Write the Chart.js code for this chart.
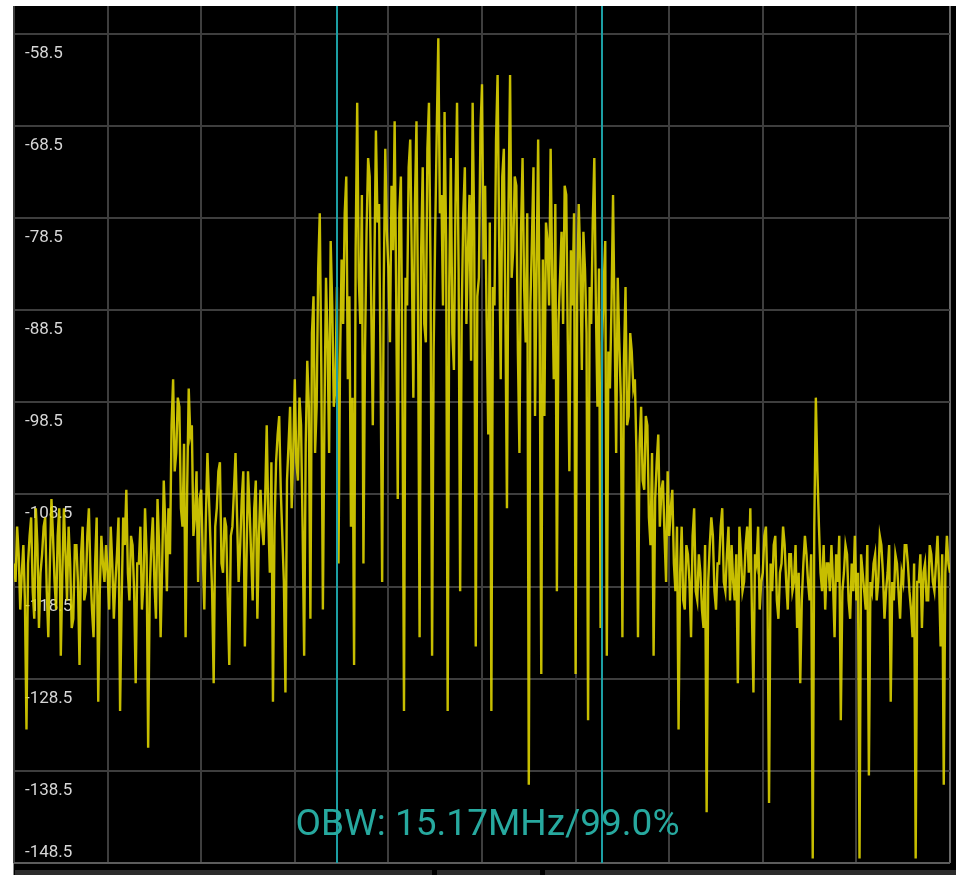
<!DOCTYPE html>
<html>
<head>
<meta charset="utf-8">
<script src="https://cdn.jsdelivr.net/npm/chart.js@4.4.1/dist/chart.umd.min.js"></script>
<style>
  html, body { margin: 0; padding: 0; background: #ffffff; width: 956px; height: 875px; overflow: hidden; }
  #frame { position: absolute; left: 14px; top: 6px; width: 942px; height: 869px; background: #000; }
  #edge { position: absolute; left: 13px; top: 6px; width: 1px; height: 869px; background: #8a8a8a; }
  .bar { position: absolute; top: 870px; height: 5px; background: #2c2c2c; }
  #c { position: absolute; left: 0; top: 0; }
</style>
</head>
<body>
<div id="frame"></div>
<div id="edge"></div>
<div class="bar" style="left:15px;width:417px"></div>
<div class="bar" style="left:437px;width:103px"></div>
<div class="bar" style="left:545px;width:411px"></div>
<canvas id="c" width="956" height="875"></canvas>
<script>
// ---- data ----
const yTickValues = [-148.5, -138.5, -128.5, -118.5, -108.5, -98.5, -88.5, -78.5, -68.5, -58.5];
const yTickLabels = ['-148.5', '-138.5', '-128.5', '-118.5', '-108.5', '-98.5', '-88.5', '-78.5', '-68.5', '-58.5'];
const yMin = -148.5;
const yMax = -55.5;
const xMin = 0;
const xMax = 600;
const xGridStep = 60;
const obwMarkers = [207, 377];
const obwLabel = 'OBW: 15.17MHz/99.0%';

// trace level per frequency bin (dBm), bins 0..600
const levels = [
  -116,-118, -112,-115, -121,-117, -114,-120, -134,-116, -113,-111, -119,-122, -110,-114, -123,-117, -115,-112,
  -111,-119, -124,-116, -109,-113, -118,-121, -113,-110, -126,-117, -110,-115, -120,-112, -116,-123, -122,-114,
  -114,-118, -127,-115, -112,-120, -119,-113, -110,-117, -121,-124, -116,-111, -131,-119, -113,-116, -118,-114,
  -117,-121, -112,-116, -122,-118, -115,-111, -132,-120, -111,-114, -108,-117, -120,-113, -114,-119, -129,-116,
  -116,-112, -121,-118, -110,-115, -136,-119, -114,-111, -118,-122, -109,-114, -124,-116, -107,-112, -119,-110,
  -115,-101, -96,-106, -104,-98, -99,-110, -112,-103, -124,-108, -97,-102, -101,-113, -111,-106, -118,-109,
  -108,-115, -121,-111, -104,-109, -114,-119, -129,-112, -110,-106, -105,-116, -117,-111, -112,-120, -127,-113,
  -112,-108, -104,-111, -118,-114, -109,-106, -125,-116, -106,-110, -115,-120, -110,-107, -122,-113, -108,-112,
  -114,-109, -101,-111, -117,-105, -131,-112, -105,-102, -100,-108, -113,-118, -130,-107, -103,-99, -110,-104,
  -96,-105, -107,-98, -101,-112, -126,-103, -94,-99, -122,-91, -87,-104, -99,-84, -78,-95, -121,-100,
  -85,-92, -104,-81, -88,-99, -97,-86, -116,-94, -83,-90, -78,-74, -96,-87, -112,-98, -127,-82,
  -66,-85, -90,-76, -116,-93, -80,-72, -74,-88, -101,-84, -69,-79, -77,-95, -118,-86, -71,-80,
  -84,-92, -75,-82, -68,-87, -109,-78, -74,-96, -132,-85, -88,-73, -70,-83, -98,-77, -68,-89,
  -124,-82, -73,-90, -92,-71, -66,-84, -126,-93, -80,-69, -59,-78, -76,-88, -67,-81, -132,-86,
  -72,-91, -95,-77, -66,-84, -119,-89, -78,-73, -90,-82, -76,-94, -66,-80, -125,-87, -85,-69,
  -64,-83, -75,-90, -102,-79, -132,-86, -88,-70, -63,-81, -96,-74, -71,-89, -110,-77, -63,-85,
  -82,-74, -75,-93, -104,-80, -72,-86, -92,-78, -140,-88, -81,-73, -100,-84, -70,-91, -128,-83,
  -100,-79, -81,-88, -71,-85, -96,-77, -119,-90, -85,-80, -90,-75, -76,-92, -106,-82, -88,-78,
  -128,-87, -77,-83, -95,-80, -84,-91, -133,-86, -90,-79, -72,-88, -99,-84, -123,-92, -86,-81,
  -126,-93, -97,-88, -76,-90, -104,-85, -92,-98, -124,-94, -86,-101, -100,-91, -93,-97, -96,-104,
  -124,-103, -99,-107, -108,-100, -101,-111, -114,-104, -126,-109, -105,-102, -112,-108, -107,-113, -118,-106,
  -113,-110, -108,-116, -119,-112, -134,-117, -112,-120, -121,-114, -115,-118, -124,-113, -110,-119, -120,-115,
  -117,-121, -123,-114, -143,-118, -114,-111, -113,-119, -121,-116, -116,-112, -110,-118, -119,-115, -112,-120,
  -114,-118, -120,-115, -129,-112, -115,-119, -118,-114, -112,-117, -110,-121, -130,-115, -116,-112, -121,-118,
  -117,-113, -112,-119, -142,-116, -119,-114, -113,-120, -122,-117, -116,-112, -114,-118, -121,-115, -115,-119,
  -118,-114, -123,-117, -129,-120, -116,-113, -115,-118, -120,-115, -148,-112, -98,-106, -112,-117, -119,-114,
  -121,-116, -116,-119, -114,-118, -124,-115, -118,-113, -133,-119, -117,-114, -115,-120, -122,-116, -119,-113,
  -120,-117, -148,-115, -117,-119, -121,-114, -139,-118, -119,-116, -115,-120, -118,-113, -114,-117, -122,-119,
  -117,-114, -131,-118, -120,-115, -116,-119, -122,-117, -118,-114, -114,-116, -119,-121, -124,-116, -148,-118,
  -118,-115, -123,-117, -116,-120, -120,-114, -115,-118, -119,-116, -113,-118, -125,-115, -140,-117, -113,-116, -117
];

const points = levels.map((v, i) => ({ x: i, y: v }));

const labelPlugin = {
  id: 'yLabels',
  beforeDatasetsDraw(chart) {
    const { ctx, chartArea, scales } = chart;
    ctx.save();
    ctx.fillStyle = '#d6d6d6';
    ctx.font = '17px Roboto, "Noto Sans", sans-serif';
    ctx.textAlign = 'left';
    ctx.textBaseline = 'alphabetic';
    yTickValues.forEach((v, k) => {
      const py = scales.y.getPixelForValue(v);
      const base = Math.min(py + 24, chartArea.bottom - 6);
      ctx.fillText(yTickLabels[k], 25, base);
    });
    ctx.restore();
  }
};

const markerPlugin = {
  id: 'obw',
  afterDatasetsDraw(chart) {
    const { ctx, chartArea, scales } = chart;
    ctx.save();
    ctx.strokeStyle = '#1c9fa4';
    ctx.lineWidth = 2;
    obwMarkers.forEach(m => {
      const px = Math.round(scales.x.getPixelForValue(m));
      ctx.beginPath();
      ctx.moveTo(px, chartArea.top);
      ctx.lineTo(px, chartArea.bottom);
      ctx.stroke();
    });
    const cx = (scales.x.getPixelForValue(obwMarkers[0]) + scales.x.getPixelForValue(obwMarkers[1])) / 2 + 18;
    ctx.fillStyle = '#27a99f';
    ctx.font = '37px Roboto, "Noto Sans", sans-serif';
    ctx.textAlign = 'center';
    ctx.textBaseline = 'alphabetic';
    ctx.fillText(obwLabel, cx, chartArea.bottom - 28);
    ctx.restore();
  }
};

new Chart(document.getElementById('c'), {
  type: 'line',
  data: {
    datasets: [{
      data: points,
      borderColor: 'rgba(226, 216, 0, 0.88)',
      borderWidth: 2.4,
      pointRadius: 0,
      tension: 0,
      fill: false
    }]
  },
  options: {
    responsive: false,
    animation: false,
    devicePixelRatio: 1,
    layout: { padding: { left: 14, right: 6, top: 6, bottom: 12 } },
    plugins: { legend: { display: false }, tooltip: { enabled: false } },
    scales: {
      x: {
        type: 'linear',
        min: xMin,
        max: xMax,
        afterBuildTicks(scale) {
          const t = [];
          for (let v = xMin; v <= xMax; v += xGridStep) t.push({ value: v });
          scale.ticks = t;
        },
        ticks: { display: false },
        border: { display: false },
        grid: {
          drawTicks: false,
          lineWidth: 2,
          color: ctx => (ctx.tick && ctx.tick.value === xMax) ? '#6a6a6a' : '#3e3e3e'
        }
      },
      y: {
        type: 'linear',
        min: yMin,
        max: yMax,
        afterBuildTicks(scale) {
          scale.ticks = yTickValues.map(v => ({ value: v }));
        },
        ticks: { display: false },
        border: { display: false },
        grid: {
          drawTicks: false,
          lineWidth: 2,
          color: ctx => (ctx.tick && ctx.tick.value === yMin) ? '#5c5c5c' : '#3e3e3e'
        }
      }
    }
  },
  plugins: [labelPlugin, markerPlugin]
});
</script>
</body>
</html>
